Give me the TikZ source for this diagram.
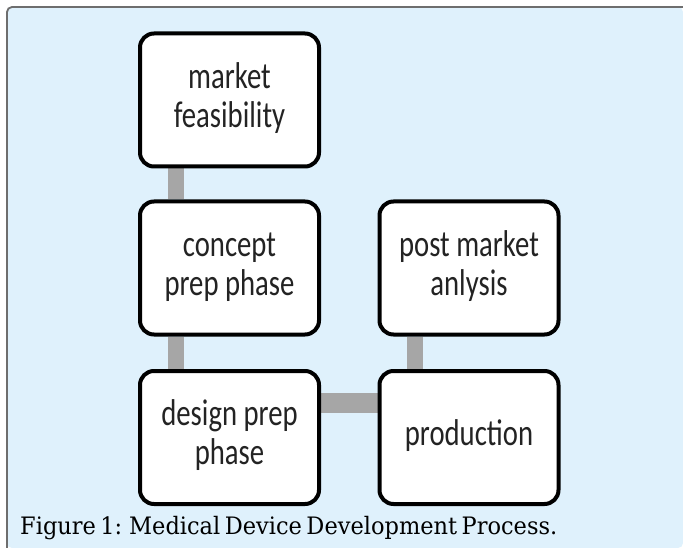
\documentclass[tikz,border=0pt]{standalone}
\usepackage{fontspec}
\setmainfont{Carlito}
\newfontfamily\capfont{DejaVu Serif}
\usetikzlibrary{backgrounds}
\definecolor{panelblue}{RGB}{223,241,252}
\definecolor{framegray}{RGB}{110,110,110}
\definecolor{bargray}{RGB}{166,166,166}
\definecolor{inkgray}{RGB}{35,35,35}
\newcommand{\boxtext}[1]{\scalebox{1}[1.3]{\fontsize{28.7}{30}\selectfont\begin{tabular}{@{}c@{}}#1\end{tabular}}}
\tikzset{
  stagebox/.style={draw=black, line width=4pt, fill=white, rounded corners=14pt,
    minimum width=179pt, minimum height=133pt, inner sep=0pt, text=inkgray},
  linkbar/.style={draw=bargray, line width=16pt},
  widebar/.style={draw=bargray, line width=20pt},
}
\begin{document}
\begin{tikzpicture}[x=1pt,y=-1pt]
  \useasboundingbox (0,0) rectangle (683,548);
  % panel with its frame on the top and left sides
  \begin{scope}[on background layer]
    \fill[white] (0,0) rectangle (683,548);
    \fill[panelblue, rounded corners=5pt] (7,548) -- (7,7) -- (683,7) -- (683,548) -- cycle;
    \draw[framegray, line width=1.8pt, rounded corners=5pt] (7,548) -- (7,7) -- (683,7);
  \end{scope}

  % process stages
  \node[stagebox] (feas)   at (229.5,100)   {\boxtext{market\\feasibility}};
  \node[stagebox] (concept) at (229.5,268)  {\boxtext{concept\\prep phase}};
  \node[stagebox] (design) at (229.5,437.5) {\boxtext{design prep\\phase}};
  \node[stagebox] (post)   at (469,268)     {\boxtext{post market\\anlysis}};
  \node[stagebox] (prod)   at (469,437.5)   {\boxtext{production}};

  % links between stages
  \begin{scope}[on background layer]
    \draw[linkbar] ([xshift=-53.5pt]feas.south) -- ([xshift=-53.5pt]concept.north);
    \draw[linkbar] ([xshift=-53.5pt]concept.south) -- ([xshift=-53.5pt]design.north);
    \draw[linkbar] ([xshift=-54pt]post.south) -- ([xshift=-54pt]prod.north);
    \draw[widebar] ([yshift=34.5pt]design.east) -- ([yshift=34.5pt]design.east -| prod.west);
  \end{scope}

  % caption, with tight word spacing
  \node[anchor=base west, inner sep=0pt, text=black] (caption) at (20,534)
    {\resizebox{537pt}{\height}{\capfont\fontsize{24}{27}\selectfont\spaceskip=0.2em\relax
      Figure 1: Medical Device Development Process.}};
\end{tikzpicture}
\end{document}
